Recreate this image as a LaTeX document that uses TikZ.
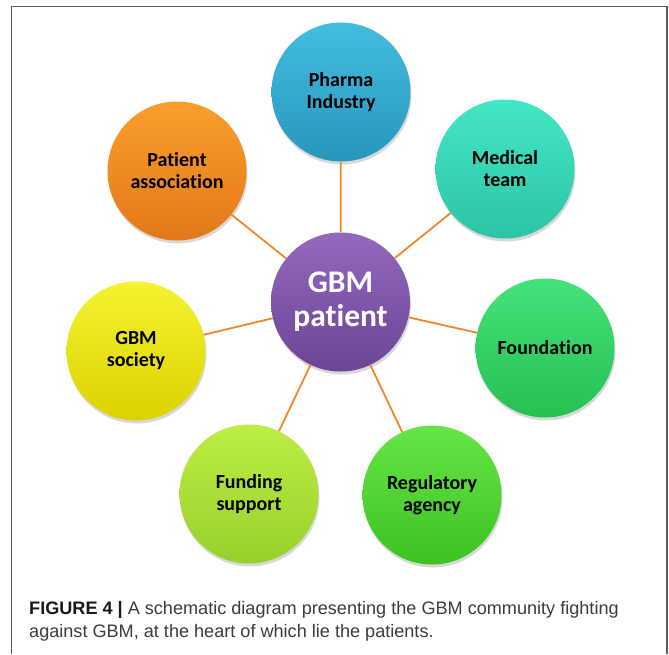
\documentclass[tikz,border=0pt]{standalone}
\usepackage{fontspec}
\setmainfont{Liberation Sans}
\newfontfamily\calib[Ligatures=NoCommon]{Carlito}
\usetikzlibrary{shadows}
\definecolor{linkc}{HTML}{F0872A}
\definecolor{framec}{HTML}{5A5A5A}
\definecolor{capc}{HTML}{3C3C3C}
\definecolor{pharmaT}{HTML}{42BDE0}\definecolor{pharmaB}{HTML}{2896BC}
\definecolor{medT}{HTML}{44E6C6}\definecolor{medB}{HTML}{2CC4A4}
\definecolor{patT}{HTML}{FA9E2C}\definecolor{patB}{HTML}{E27818}
\definecolor{gbmT}{HTML}{9468BE}\definecolor{gbmB}{HTML}{6A4596}
\definecolor{socT}{HTML}{F6F230}\definecolor{socB}{HTML}{DCD200}
\definecolor{fouT}{HTML}{44E27A}\definecolor{fouB}{HTML}{26C052}
\definecolor{funT}{HTML}{BCEE44}\definecolor{funB}{HTML}{98D02A}
\definecolor{regT}{HTML}{66E646}\definecolor{regB}{HTML}{3CC222}
\begin{document}
\begin{tikzpicture}[x=1pt,y=-1pt,
  bub/.style={circle, minimum size=139pt, inner sep=0pt, align=center,
    font=\calib\bfseries\fontsize{20}{22}\selectfont, text=black,
    drop shadow={opacity=0.3, shadow xshift=1pt, shadow yshift=-3pt}},
  link/.style={draw=linkc, line width=1.8pt},
  capline/.style={anchor=base west, font=\fontsize{18.1}{23}\selectfont, text=capc, inner sep=0pt}]
\path[use as bounding box] (0,0) rectangle (669,654);
\fill[white] (0,0) rectangle (669,654);
\draw[framec, line width=1.6pt] (11.5,654) -- (11.5,6.5) -- (667,6.5) -- (667,654);

\node[bub, top color=gbmT, bottom color=gbmB, text=white,
  font=\calib\bfseries\fontsize{31.5}{34}\selectfont] (gbm) at (340.5,302) {GBM\\patient};
\node[bub, top color=pharmaT, bottom color=pharmaB] (pharma) at (341,92) {Pharma\\Industry};
\node[bub, top color=medT, bottom color=medB] (med) at (505,169) {Medical\\team};
\node[bub, top color=patT, bottom color=patB] (pat) at (177,171) {Patient\\association};
\node[bub, top color=socT, bottom color=socB] (soc) at (136,351) {GBM\\society};
\node[bub, top color=fouT, bottom color=fouB] (fou) at (545,348) {Foundation};
\node[bub, top color=funT, bottom color=funB] (fun) at (249,494) {Funding\\support};
\node[bub, top color=regT, bottom color=regB] (reg) at (432,495) {Regulatory\\agency};

\foreach \t in {pharma,med,pat,soc,fou,fun,reg}{\draw[link] (gbm) -- (\t);}

\node[capline] (cap1) at (29,614) {{\color{black!90}\bfseries FIGURE 4 |} A schematic diagram presenting the GBM community fighting};
\node[capline] (cap2) at (29,637) {against GBM, at the heart of which lie the patients.};
\end{tikzpicture}
\end{document}
